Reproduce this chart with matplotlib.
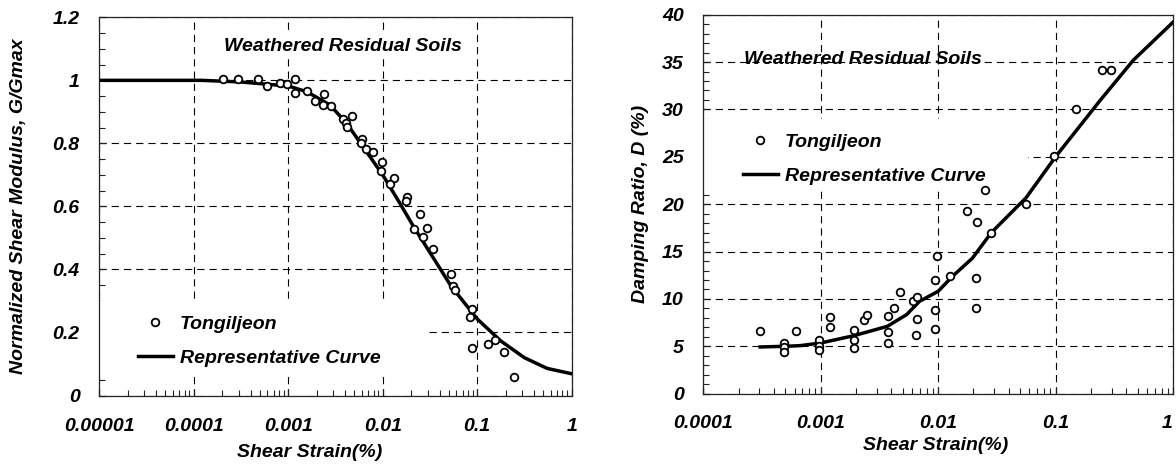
import matplotlib
matplotlib.use("Agg")
from matplotlib import pyplot as plt
from matplotlib.lines import Line2D
from matplotlib.patches import Rectangle

# G/Gmax test points (Tongiljeon)
gg_strain = [2.05e-4, 2.96e-4, 4.82e-4, 6.0e-4, 8.17e-4, 9.6e-4, 1.19e-3, 1.19e-3, 1.60e-3, 1.92e-3,
             2.40e-3, 2.31e-3, 2.83e-3, 3.77e-3, 4.05e-3, 4.15e-3, 4.75e-3, 6.07e-3, 5.88e-3, 6.64e-3,
             7.93e-3, 9.88e-3, 9.57e-3, 0.0131, 0.0119, 0.0179, 0.0176, 0.0248, 0.0216, 0.0292,
             0.0264, 0.0342, 0.0533, 0.056, 0.0578, 0.0891, 0.0841, 0.0891, 0.129, 0.156, 0.191, 0.243]
gg_ratio = [1.004, 1.004, 1.004, 0.983, 0.991, 0.988, 1.004, 0.959, 0.967, 0.934,
            0.956, 0.922, 0.919, 0.876, 0.864, 0.853, 0.887, 0.813, 0.800, 0.781,
            0.772, 0.740, 0.713, 0.691, 0.670, 0.631, 0.616, 0.576, 0.527, 0.530,
            0.504, 0.466, 0.384, 0.349, 0.335, 0.275, 0.248, 0.151, 0.163, 0.176, 0.139, 0.059]

# G/Gmax representative curve
gc_strain = [1e-5, 1.2e-4, 3.1e-4, 1e-3, 1.57e-3, 2.76e-3, 4.15e-3, 6.2e-3, 0.01, 0.0152,
             0.0213, 0.0348, 0.0524, 0.1, 0.178, 0.316, 0.55, 1.0]
gc_ratio = [1.0, 1.0, 0.995, 0.982, 0.964, 0.922, 0.864, 0.789, 0.70, 0.61,
            0.535, 0.434, 0.349, 0.243, 0.173, 0.12, 0.086, 0.069]

# damping test points (Tongiljeon)
d_strain = [3.05e-4, 4.87e-4, 4.87e-4, 4.87e-4, 6.11e-4, 9.6e-4, 9.6e-4, 9.6e-4, 1.21e-3, 1.21e-3,
            1.93e-3, 1.93e-3, 1.93e-3, 2.34e-3, 2.46e-3, 3.71e-3, 3.71e-3, 3.71e-3, 4.22e-3, 4.77e-3,
            6.11e-3, 6.61e-3, 6.61e-3, 6.52e-3, 9.48e-3, 9.48e-3, 9.75e-3, 9.48e-3, 0.0126, 0.0212,
            0.0212, 0.0284, 0.0176, 0.0215, 0.0249, 0.0565, 0.098, 0.148, 0.247, 0.294]
d_ratio = [6.58, 5.32, 4.93, 4.44, 6.58, 5.63, 5.07, 4.58, 8.06, 7.0,
           6.73, 5.70, 4.86, 7.82, 8.35, 8.17, 6.48, 5.39, 9.01, 10.70,
           9.82, 10.25, 7.92, 6.20, 8.87, 12.0, 14.58, 6.83, 12.46, 12.18,
           9.05, 17.0, 19.25, 18.15, 21.5, 20.05, 25.05, 30.07, 34.2, 34.2]

# damping representative curve
dc_strain = [3.05e-4, 4.9e-4, 6.7e-4, 1e-3, 1.93e-3, 3.7e-3, 5.4e-3, 6.95e-3, 0.01, 0.0133,
             0.0196, 0.0284, 0.0561, 0.1, 0.238, 0.46, 1.0]
dc_ratio = [4.93, 5.0, 5.07, 5.35, 6.13, 7.11, 8.35, 9.75, 10.8, 12.4,
            14.3, 17.0, 20.67, 25.0, 30.9, 35.2, 39.2]

left_xticks = [1e-5, 1e-4, 1e-3, 1e-2, 1e-1, 1]
left_xlabels = ["0.00001", "0.0001", "0.001", "0.01", "0.1", "1"]
left_yticks = [0, 0.2, 0.4, 0.6, 0.8, 1.0, 1.2]
left_ylabels = ["0", "0.2", "0.4", "0.6", "0.8", "1", "1.2"]
right_xticks = [1e-4, 1e-3, 1e-2, 1e-1, 1]
right_xlabels = ["0.0001", "0.001", "0.01", "0.1", "1"]
right_yticks = [0, 5, 10, 15, 20, 25, 30, 35, 40]

plt.rcParams["font.family"] = ["Liberation Sans", "DejaVu Sans"]
plt.rcParams["font.weight"] = "bold"
plt.rcParams["font.style"] = "italic"
plt.rcParams["axes.labelweight"] = "bold"
plt.rcParams["font.size"] = 14
plt.rcParams["axes.axisbelow"] = True

FS = 14
GRID = dict(color="black", linewidth=0.8, dashes=(6.5, 4.5))
MARK = dict(marker="o", linestyle="none", markersize=5.5, markerfacecolor="white",
            markeredgecolor="black", markeredgewidth=1.3)


def style_axes(ax, xpad, ypad):
    for sp in ax.spines.values():
        sp.set_linewidth(0.9)
        sp.set_color("#222222")
    ax.tick_params(which="both", direction="in", top=False, right=False, color="#222222")
    ax.tick_params(which="major", length=5, width=0.9)
    ax.tick_params(which="minor", length=4, width=0.8)
    ax.tick_params(axis="x", which="major", pad=xpad, labelsize=FS)
    ax.tick_params(axis="y", which="major", pad=ypad, labelsize=FS)
    ax.grid(True, which="major", **GRID)


def make_legend(ax, x0, ytop, mask):
    # white block behind the legend hides the grid there
    ax.add_patch(Rectangle((0, mask[0]), mask[2], mask[1] - mask[0], transform=ax.transAxes,
                           facecolor="white", edgecolor="none", zorder=1.5))
    handles = [Line2D([], [], **MARK), Line2D([], [], color="black", linewidth=2.5)]
    leg = ax.legend(handles, ["Tongiljeon", "Representative Curve"], loc="upper left",
                    bbox_to_anchor=(x0, ytop), borderaxespad=0, borderpad=0,
                    labelspacing=0.86, handlelength=1.8, handletextpad=0.35,
                    frameon=False, fontsize=FS)
    leg.set_zorder(1.6)
    return leg


fig = plt.figure(figsize=(11.76, 4.69), dpi=100)

# left panel: normalized shear modulus
ax1 = fig.add_axes([0.0844, 0.1567, 0.4017, 0.8064])
ax1.set_xscale("log")
ax1.set_xlim(1e-5, 1)
ax1.set_ylim(0, 1.2)
ax1.plot(gc_strain, gc_ratio, color="black", linewidth=2.5, zorder=2)
ax1.plot(gg_strain, gg_ratio, zorder=3, **MARK)
ax1.set_xticks(left_xticks, left_xlabels)
ax1.set_yticks(left_yticks, left_ylabels)
ax1.set_yticks([i * 0.05 for i in range(25)], minor=True)
style_axes(ax1, 16, 14)
ax1.set_xlabel("Shear Strain(%)", fontsize=FS, va="center", ha="center")
ax1.xaxis.set_label_coords(0.445, -0.152)
ax1.set_ylabel("Normalized Shear Modulus, G/Gmax", fontsize=FS, va="center", ha="center")
ax1.yaxis.set_label_coords(-0.170, 0.5)
t1 = ax1.text(0.516, 0.922, "Weathered Residual Soils", transform=ax1.transAxes, fontsize=FS,
              ha="center", va="center", bbox=dict(facecolor="white", edgecolor="none", pad=3))
t1.set_zorder(1.5)
make_legend(ax1, 0.082, 0.213, (0.062, 0.250, 0.694))

# right panel: damping ratio
ax2 = fig.add_axes([0.598, 0.1606, 0.3994, 0.8081])
ax2.set_xscale("log")
ax2.set_xlim(1e-4, 1)
ax2.set_ylim(0, 40)
ax2.plot(dc_strain, dc_ratio, color="black", linewidth=2.5, zorder=2)
ax2.plot(d_strain, d_ratio, zorder=3, **MARK)
ax2.set_xticks(right_xticks, right_xlabels)
ax2.set_yticks(right_yticks, [str(v) for v in right_yticks])
ax2.set_yticks(list(range(41)), minor=True)
style_axes(ax2, 15, 14)
ax2.get_xticklabels()[-1].set_horizontalalignment("right")
ax2.set_xlabel("Shear Strain(%)", fontsize=FS, va="center", ha="center")
ax2.xaxis.set_label_coords(0.495, -0.138)
ax2.set_ylabel("Damping Ratio, D (%)", fontsize=FS, va="center", ha="center")
ax2.yaxis.set_label_coords(-0.133, 0.5)
ax2.text(0.341, 0.883, "Weathered Residual Soils", transform=ax2.transAxes, fontsize=FS,
         ha="center", va="center")
make_legend(ax2, 0.0845, 0.688, (0.540, 0.725, 0.691))

fig.savefig("out.png", dpi=100, facecolor="white")
